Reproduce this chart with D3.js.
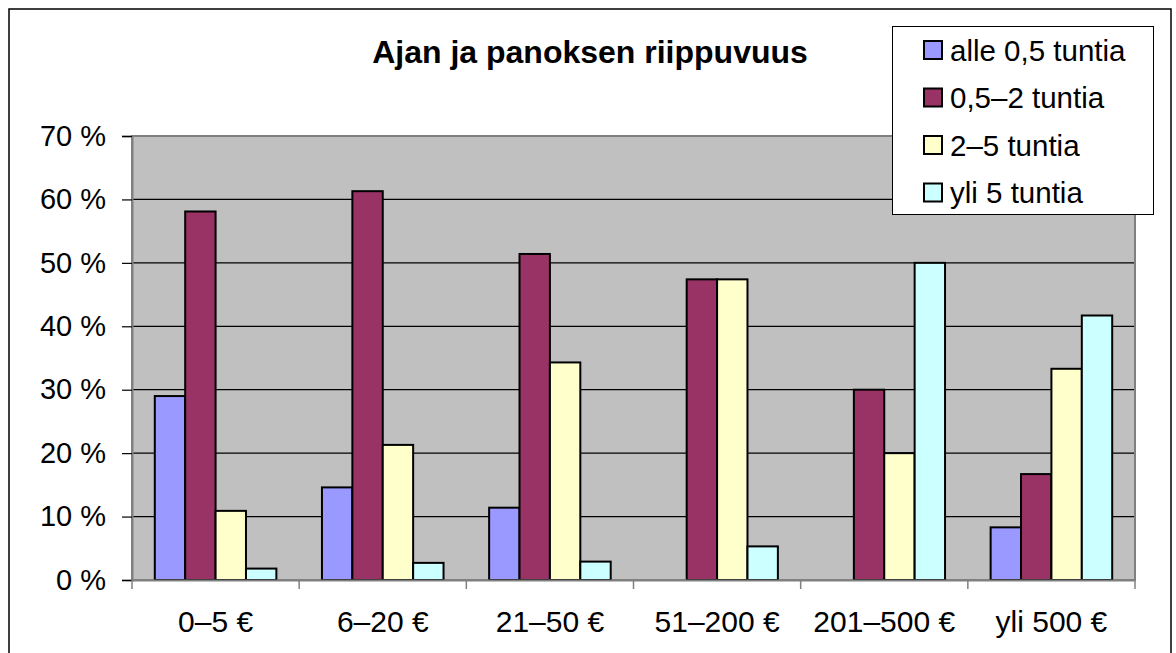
<!DOCTYPE html>
<html><head><meta charset="utf-8">
<script src="https://cdn.jsdelivr.net/npm/d3@7"></script>
<style>body{margin:0;background:#fff}svg{display:block}text{font-family:"Liberation Sans",Arial,sans-serif}</style>
</head><body>
<script>
const categories = ["0–5 €","6–20 €","21–50 €","51–200 €","201–500 €","yli 500 €"];
const seriesNames = ["alle 0,5 tuntia","0,5–2 tuntia","2–5 tuntia","yli 5 tuntia"];
const seriesColors = ["#9999FF","#993366","#FFFFCC","#CCFFFF"];
const alle05 = [29.0, 14.6, 11.4, 0, 0, 8.3];
const h05to2 = [58.1, 61.3, 51.4, 47.4, 30.0, 16.7];
const h2to5  = [10.9, 21.3, 34.3, 47.4, 20.0, 33.3];
const yli5   = [1.8, 2.7, 2.9, 5.3, 50.0, 41.7];
const yTicks = [0,10,20,30,40,50,60,70];
const title = "Ajan ja panoksen riippuvuus";

const seriesValues = [alle05, h05to2, h2to5, yli5];
const W = 1176, H = 653;
const svg = d3.select("body").append("svg").attr("width", W).attr("height", H);

// outer border
svg.append("rect").attr("x",9).attr("y",9).attr("width",1162).attr("height",660)
  .attr("fill","#fff").attr("stroke","#000").attr("stroke-width",1.5);

const plot = {l:132, r:1135, t:136, b:580};
const x0 = d3.scaleBand().domain(categories).range([plot.l, plot.r]).paddingInner(0).paddingOuter(0);
const x1 = d3.scaleBand().domain(seriesNames).range([0, x0.bandwidth()]).paddingInner(0).paddingOuter(0.75);
const y = d3.scaleLinear().domain([0,70]).range([plot.b, plot.t]);

// plot background
svg.append("rect").attr("x",plot.l).attr("y",plot.t).attr("width",plot.r-plot.l).attr("height",plot.b-plot.t)
  .attr("fill","#C0C0C0");

// gridlines
svg.append("g").selectAll("line").data(yTicks.filter(d=>d>0 && d<70)).join("line")
  .attr("x1",plot.l).attr("x2",plot.r).attr("y1",d=>y(d)).attr("y2",d=>y(d))
  .attr("stroke","#000").attr("stroke-width",1.2);

// plot border
svg.append("rect").attr("x",plot.l).attr("y",plot.t).attr("width",plot.r-plot.l).attr("height",plot.b-plot.t)
  .attr("fill","none").attr("stroke","#808080").attr("stroke-width",2);

// bars
const barData = [];
categories.forEach((c,i)=>seriesNames.forEach((s,j)=>{
  const v = seriesValues[j][i];
  if (v>0) barData.push({c,s,v,color:seriesColors[j]});
}));
svg.append("g").selectAll("rect").data(barData).join("rect")
  .attr("x",d=>x0(d.c)+x1(d.s)).attr("width",x1.bandwidth())
  .attr("y",d=>y(d.v)).attr("height",d=>y(0)-y(d.v))
  .attr("fill",d=>d.color).attr("stroke","#000").attr("stroke-width",2);

// y axis
const yAxis = svg.append("g").attr("transform",`translate(${plot.l},0)`)
  .call(d3.axisLeft(y).tickValues(yTicks).tickSize(10).tickPadding(16).tickFormat(d=>d+" %"));
yAxis.select(".domain").attr("stroke","#808080").attr("stroke-width",2);
yAxis.selectAll(".tick line").attr("stroke","#000").attr("stroke-width",1.2);
yAxis.selectAll("text").attr("font-size",29).attr("fill","#000");

// x axis
const xAxis = svg.append("g").attr("transform",`translate(0,${plot.b})`)
  .call(d3.axisBottom(x0).tickSize(0).tickPadding(31));
xAxis.select(".domain").attr("stroke","#808080").attr("stroke-width",2);
xAxis.selectAll("text").attr("font-size",30).attr("fill","#000");
// category boundary ticks
const bounds = categories.map(c=>x0(c)).concat([x0(categories[categories.length-1])+x0.bandwidth()]);
svg.append("g").selectAll("line").data(bounds).join("line")
  .attr("x1",d=>d).attr("x2",d=>d).attr("y1",plot.b).attr("y2",plot.b+9)
  .attr("stroke","#808080").attr("stroke-width",1.5);

// title
svg.append("text").attr("x",590).attr("y",63).attr("text-anchor","middle")
  .attr("font-size",32).attr("font-weight","bold").text(title);

// legend
const lg = svg.append("g");
lg.append("rect").attr("x",892.5).attr("y",26.5).attr("width",261).attr("height",188)
  .attr("fill","#fff").attr("stroke","#000").attr("stroke-width",1);
const items = lg.selectAll("g.item").data(seriesNames).join("g").attr("class","item")
  .attr("transform",(d,i)=>`translate(924,${41+i*47.5})`);
items.append("rect").attr("width",18).attr("height",18)
  .attr("fill",(d,i)=>seriesColors[i]).attr("stroke","#000").attr("stroke-width",2);
items.append("text").attr("x",26).attr("y",9).attr("dy","0.36em")
  .attr("font-size",29.5).text(d=>d);
</script>
</body></html>
